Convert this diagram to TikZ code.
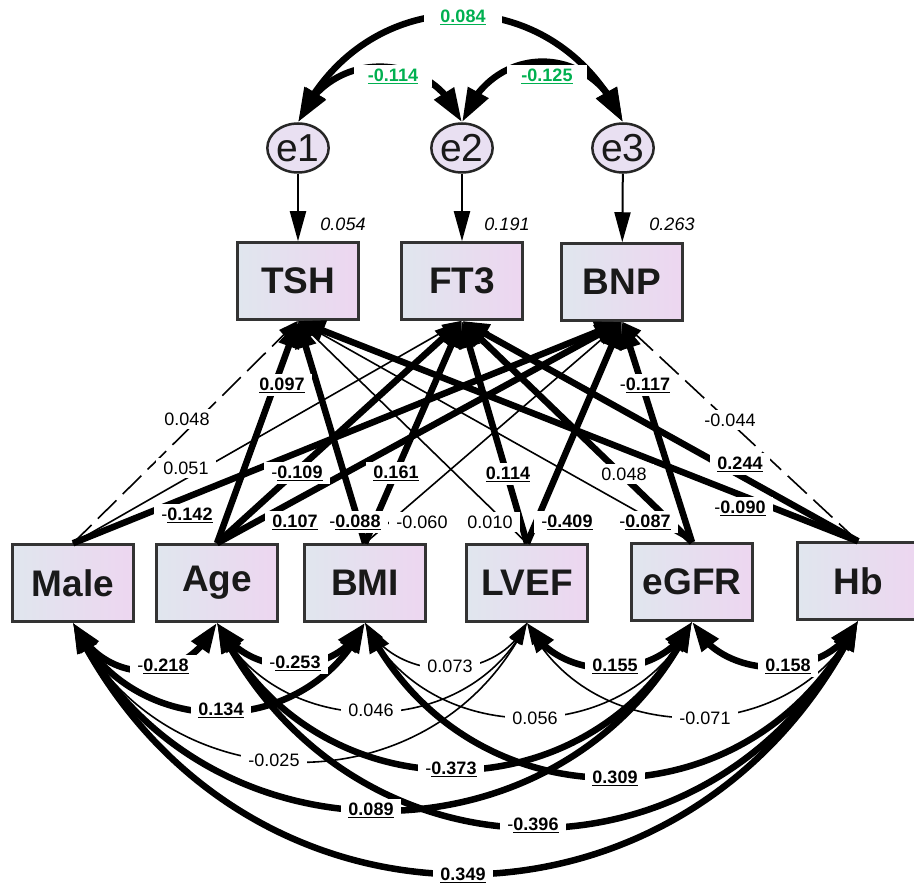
\documentclass[tikz,border=0pt]{standalone}
\usepackage{fontspec}
\setmainfont{Liberation Sans}
\usetikzlibrary{arrows.meta,bending,shapes.geometric}
\definecolor{grn}{RGB}{0,176,80}
\definecolor{boxl}{RGB}{224,230,238}
\definecolor{boxr}{RGB}{237,214,240}
\definecolor{errc}{RGB}{233,224,242}
\newcommand\sigv[1]{\underline{\textbf{#1}}}
\newcommand\gsig[1]{\textcolor{grn}{\underline{\textbf{#1}}}}
\begin{document}
\begin{tikzpicture}[x=1pt,y=1pt,
  var/.style={draw=black!80, line width=2.5pt, left color=boxl, right color=boxr,
    minimum width=121pt, minimum height=77pt, inner sep=0pt,
    font=\fontsize{37}{40}\selectfont\bfseries, text=black!90},
  err/.style={ellipse, draw=black!85, line width=2.5pt, fill=errc,
    minimum width=57pt, minimum height=49pt, inner sep=0pt,
    font=\fontsize{39}{40}\selectfont, text=black!90},
  thk/.style={line width=6.5pt},
  thn/.style={line width=1.6pt},
  dsh/.style={dash pattern=on 26pt off 9pt},
  reg/.style={-{Triangle[length=27pt,width=20pt]}},
  regthin/.style={-{Triangle[length=20pt,width=13pt]}},
  cov/.style={{Triangle[length=30pt,width=20pt]}-{Triangle[length=30pt,width=20pt]}},
  covthin/.style={{Triangle[length=22pt,width=13pt]}-{Triangle[length=22pt,width=13pt]}},
  ecov/.style={line width=6.5pt,{Triangle[length=34pt,width=22pt]}-{Triangle[length=34pt,width=22pt]}},
  earr/.style={line width=2pt,-{Triangle[length=30pt,width=16pt]}},
  lab/.style={fill=white, inner xsep=7pt, inner ysep=4pt, font=\fontsize{18}{19}\selectfont},
  vlab/.style={inner sep=1pt, font=\fontsize{18}{19}\selectfont\itshape}
]
\useasboundingbox (0,0) rectangle (914,-885);
\fill[white] (0,0) rectangle (914,-885);

% error terms
\node[err] (e1) at (298,-148) {e1};
\node[err] (e2) at (462,-148) {e2};
\node[err] (e3) at (623,-148) {e3};

% endogenous
\node[var] (TSH) at (298,-281) {TSH};
\node[var] (FT3) at (462,-281) {FT3};
\node[var] (BNP) at (622,-282) {BNP};

% exogenous
\node[var] (Male) at (73,-583) {Male};
\node[var] (Age) at (217,-583) {Age};
\node[var] (BMI) at (365,-583) {BMI};
\node[var] (LVEF) at (527,-583) {LVEF};
\node[var] (eGFR) at (692,-582) {eGFR};
\node[var] (Hb) at (858,-581) {Hb};

% error arrows
\draw[earr] (e1) -- (TSH);
\draw[earr] (e2) -- (FT3);
\draw[earr] (e3) -- (BNP);

% regression paths
\draw[thn,regthin,dsh] (Male.north) -- (TSH.south);
\draw[thn,regthin] (Male.north) -- (FT3.south);
\draw[thk,reg] (Male.north) -- (BNP.south);
\draw[thk,reg] (Age.north) -- (TSH.south);
\draw[thk,reg] (Age.north) -- (FT3.south);
\draw[thk,reg] (Age.north) -- (BNP.south);
\draw[thk,reg] (BMI.north) -- (TSH.south);
\draw[thk,reg] (BMI.north) -- (FT3.south);
\draw[thn,regthin] (BMI.north) -- (BNP.south);
\draw[thn,regthin] (LVEF.north) -- (TSH.south);
\draw[thk,reg] (LVEF.north) -- (FT3.south);
\draw[thk,reg] (LVEF.north) -- (BNP.south);
\draw[thn,regthin] (eGFR.north) -- (TSH.south);
\draw[thk,reg] (eGFR.north) -- (FT3.south);
\draw[thk,reg] (eGFR.north) -- (BNP.south);
\draw[thk,reg] (Hb.north) -- (TSH.south);
\draw[thk,reg] (Hb.north) -- (FT3.south);
\draw[thn,regthin,dsh] (Hb.north) -- (BNP.south);

% error covariances
\draw[ecov] (e1.north) to[out=65,in=115,looseness=1.25] (e3.north);
\draw[ecov] (e1.north) to[out=68,in=112,looseness=1.25] (e2.north);
\draw[ecov] (e2.north) to[out=70,in=110,looseness=1.37] (e3.north);

% exogenous covariances
\draw[thk,cov] (Male.south) to[out=-64,in=-116,looseness=1.27] (Age.south);
\draw[thk,cov] (Male.south) to[out=-64,in=-116,looseness=1.17] (BMI.south);
\draw[thn,covthin] (Male.south) to[out=-64,in=-116,looseness=1.17] (LVEF.south);
\draw[thk,cov] (Male.south) to[out=-64,in=-116,looseness=1.16] (eGFR.south);
\draw[thk,cov] (Male.south) to[out=-64,in=-116,looseness=1.22] (Hb.south);
\draw[thk,cov] (Age.south) to[out=-64,in=-116,looseness=1.1] (BMI.south);
\draw[thn,covthin] (Age.south) to[out=-64,in=-116,looseness=1.1] (LVEF.south);
\draw[thk,cov] (Age.south) to[out=-64,in=-116,looseness=1.18] (eGFR.south);
\draw[thk,cov] (Age.south) to[out=-64,in=-116,looseness=1.22] (Hb.south);
\draw[thn,covthin] (BMI.south) to[out=-64,in=-116,looseness=1.08] (LVEF.south);
\draw[thn,covthin] (BMI.south) to[out=-64,in=-116,looseness=1.11] (eGFR.south);
\draw[thk,cov] (BMI.south) to[out=-64,in=-116,looseness=1.2] (Hb.south);
\draw[thk,cov] (LVEF.south) to[out=-64,in=-116,looseness=1.06] (eGFR.south);
\draw[thn,covthin] (LVEF.south) to[out=-64,in=-116,looseness=1.1] (Hb.south);
\draw[thk,cov] (eGFR.south) to[out=-64,in=-116,looseness=1.05] (Hb.south);

% variance labels
\node[vlab] (v1) at (343,-224) {0.054};
\node[vlab] (v2) at (507,-224) {0.191};
\node[vlab] (v3) at (672,-224) {0.263};

% regression labels
\node[lab] (r1) at (187,-419) {0.048};
\node[lab] (r2) at (186,-468) {0.051};
\node[lab] (r3) at (187,-515) {-\sigv{0.142}};
\node[lab] (r4) at (282,-385) {\sigv{0.097}};
\node[lab] (r5) at (297,-473) {-\sigv{0.109}};
\node[lab] (r6) at (295,-522) {\sigv{0.107}};
\node[lab] (r7) at (355,-522) {-\sigv{0.088}};
\node[lab] (r8) at (396,-473) {\sigv{0.161}};
\node[lab] (r9) at (422,-522) {-0.060};
\node[lab] (r10) at (490,-522) {0.010};
\node[lab] (r11) at (508,-474) {\sigv{0.114}};
\node[lab] (r12) at (567,-522) {-\sigv{0.409}};
\node[lab] (r13) at (624,-474) {0.048};
\node[lab] (r14) at (645,-522) {-\sigv{0.087}};
\node[lab] (r15) at (645,-385) {-\sigv{0.117}};
\node[lab] (r16) at (740,-508) {-\sigv{0.090}};
\node[lab] (r17) at (740,-464) {\sigv{0.244}};
\node[lab] (r18) at (730,-420) {-0.044};

% covariance labels
\node[lab] (c1) at (163,-666) {-\sigv{0.218}};
\node[lab] (c2) at (295,-663) {-\sigv{0.253}};
\node[lab] (c3) at (450,-666) {0.073};
\node[lab] (c4) at (615,-666) {\sigv{0.155}};
\node[lab] (c5) at (788,-666) {\sigv{0.158}};
\node[lab] (c6) at (221,-710) {\sigv{0.134}};
\node[lab] (c7) at (371,-710) {0.046};
\node[lab] (c8) at (535,-718) {0.056};
\node[lab] (c9) at (705,-718) {-0.071};
\node[lab] (c10) at (274,-760) {-0.025};
\node[lab] (c11) at (451,-769) {-\sigv{0.373}};
\node[lab] (c12) at (615,-778) {\sigv{0.309}};
\node[lab] (c13) at (371,-810) {\sigv{0.089}};
\node[lab] (c14) at (533,-825) {-\sigv{0.396}};
\node[lab] (c15) at (463,-875) {\sigv{0.349}};

% error covariance labels
\node[lab,inner xsep=16pt] (g1) at (463,-17) {\gsig{0.084}};
\node[lab,inner xsep=14pt] (g2) at (393,-76) {\gsig{-0.114}};
\node[lab,inner xsep=14pt] (g3) at (547,-76) {\gsig{-0.125}};
\end{tikzpicture}
\end{document}
